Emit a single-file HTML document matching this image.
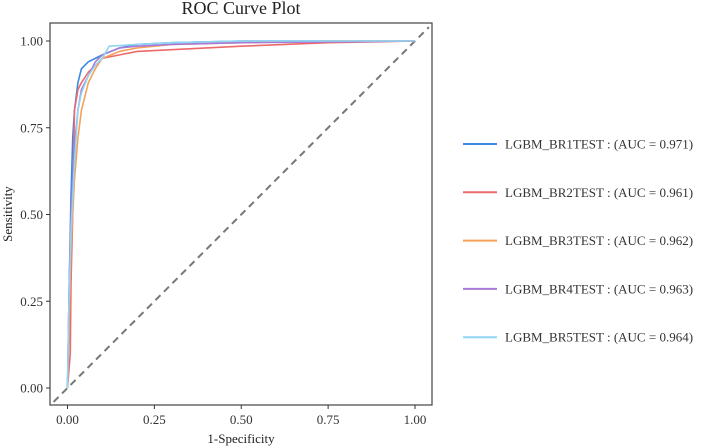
<!DOCTYPE html>
<html><head><meta charset="utf-8"><style>
body{margin:0;background:#fff;}
svg{display:block;font-family:"Liberation Serif",serif;}
</style></head><body>
<svg id="chart" width="703" height="447" viewBox="0 0 703 447">
<text x="241" y="14" font-size="18" text-anchor="middle" fill="#222">ROC Curve Plot</text>
<rect x="50" y="23" width="382" height="382" fill="none" stroke="#444" stroke-width="1.2"/>
<g id="axes"></g>
<g id="curves"></g>
<text x="241" y="443" font-size="13" text-anchor="middle" fill="#222">1-Specificity</text>
<text transform="translate(12,214) rotate(-90)" font-size="13" text-anchor="middle" fill="#222">Sensitivity</text>
<g id="legend"></g>
</svg>
<script>
const ticks=[0,0.25,0.5,0.75,1];
const tickLabels=["0.00","0.25","0.50","0.75","1.00"];
const seriesNames=["LGBM_BR1TEST : (AUC = 0.971)","LGBM_BR2TEST : (AUC = 0.961)","LGBM_BR3TEST : (AUC = 0.962)","LGBM_BR4TEST : (AUC = 0.963)","LGBM_BR5TEST : (AUC = 0.964)"];
const colors=["#3a8be0","#ec6a6a","#f5a05a","#a97ad8","#8fd6f2"];
const fpr1=[0,0.005,0.01,0.015,0.02,0.03,0.04,0.06,0.08,0.1,0.15,0.2,0.3,0.5,1];
const tpr1=[0,0.3,0.55,0.72,0.8,0.88,0.92,0.94,0.95,0.96,0.98,0.99,0.995,1,1];
const fpr2=[0,0.008,0.01,0.015,0.02,0.03,0.04,0.06,0.08,0.1,0.15,0.2,0.3,0.5,0.75,1];
const tpr2=[0,0.1,0.3,0.5,0.8,0.86,0.88,0.91,0.93,0.95,0.96,0.97,0.975,0.985,0.995,1];
const fpr3=[0,0.01,0.02,0.03,0.04,0.06,0.08,0.1,0.15,0.2,0.3,0.5,0.75,1];
const tpr3=[0,0.4,0.6,0.72,0.8,0.88,0.92,0.95,0.97,0.98,0.99,0.995,1,1];
const fpr4=[0,0.005,0.01,0.02,0.03,0.04,0.06,0.08,0.1,0.15,0.2,0.3,0.5,0.83,1];
const tpr4=[0,0.3,0.5,0.7,0.8,0.86,0.9,0.94,0.96,0.98,0.985,0.99,0.995,0.998,1];
const fpr5=[0,0.003,0.01,0.02,0.03,0.04,0.06,0.08,0.1,0.12,0.2,0.3,0.5,1];
const tpr5=[0,0.2,0.45,0.65,0.8,0.85,0.9,0.93,0.95,0.985,0.99,0.995,1,1];
const allF=[fpr1,fpr2,fpr3,fpr4,fpr5], allT=[tpr1,tpr2,tpr3,tpr4,tpr5];
const X=v=>67.5+v*347.5, Y=v=>388-v*347;
const NS="http://www.w3.org/2000/svg";
function mk(t,a,p){const e=document.createElementNS(NS,t);for(const k in a)e.setAttribute(k,a[k]);p.appendChild(e);return e;}
const ax=document.getElementById('axes');
ticks.forEach((t,i)=>{
 const a=mk('line',{x1:X(t),x2:X(t),y1:405,y2:409,stroke:'#333'},ax);
 
 
 const l=mk('text',{x:X(t),y:424,'font-size':13,'text-anchor':'middle',fill:'#333'},ax);l.textContent=tickLabels[i];
 
 
 const b=mk('line',{x1:46,x2:50,y1:Y(t),y2:Y(t),stroke:'#333'},ax);
 
 
 const m=mk('text',{x:43,y:Y(t)+4.5,'font-size':13,'text-anchor':'end',fill:'#333'},ax);m.textContent=tickLabels[i];
 
 
});
const cv=document.getElementById('curves');
const d=mk('line',{x1:X(-0.04),y1:Y(-0.04),x2:X(1.04),y2:Y(1.04),stroke:'#777','stroke-width':2,'stroke-dasharray':'7,5'},cv);


allF.forEach((f,s)=>{
 let p='M'+X(f[0])+','+Y(allT[s][0]);
 for(let i=1;i<f.length;i++){p+=' L'+X(f[i])+','+Y(allT[s][i]);}
 const e=mk('path',{d:p,fill:'none',stroke:colors[s],'stroke-width':1.6},cv);
 
 
});
const lg=document.getElementById('legend');
seriesNames.forEach((n,i)=>{
 const y=144+i*48.3;
 const l=mk('line',{x1:463,x2:497,y1:y,y2:y,stroke:colors[i],'stroke-width':2},lg);
 
 
 const t=mk('text',{x:505,y:y+4.5,'font-size':13,fill:'#333'},lg);t.textContent=n;
 
 
});
</script>
</body></html>
